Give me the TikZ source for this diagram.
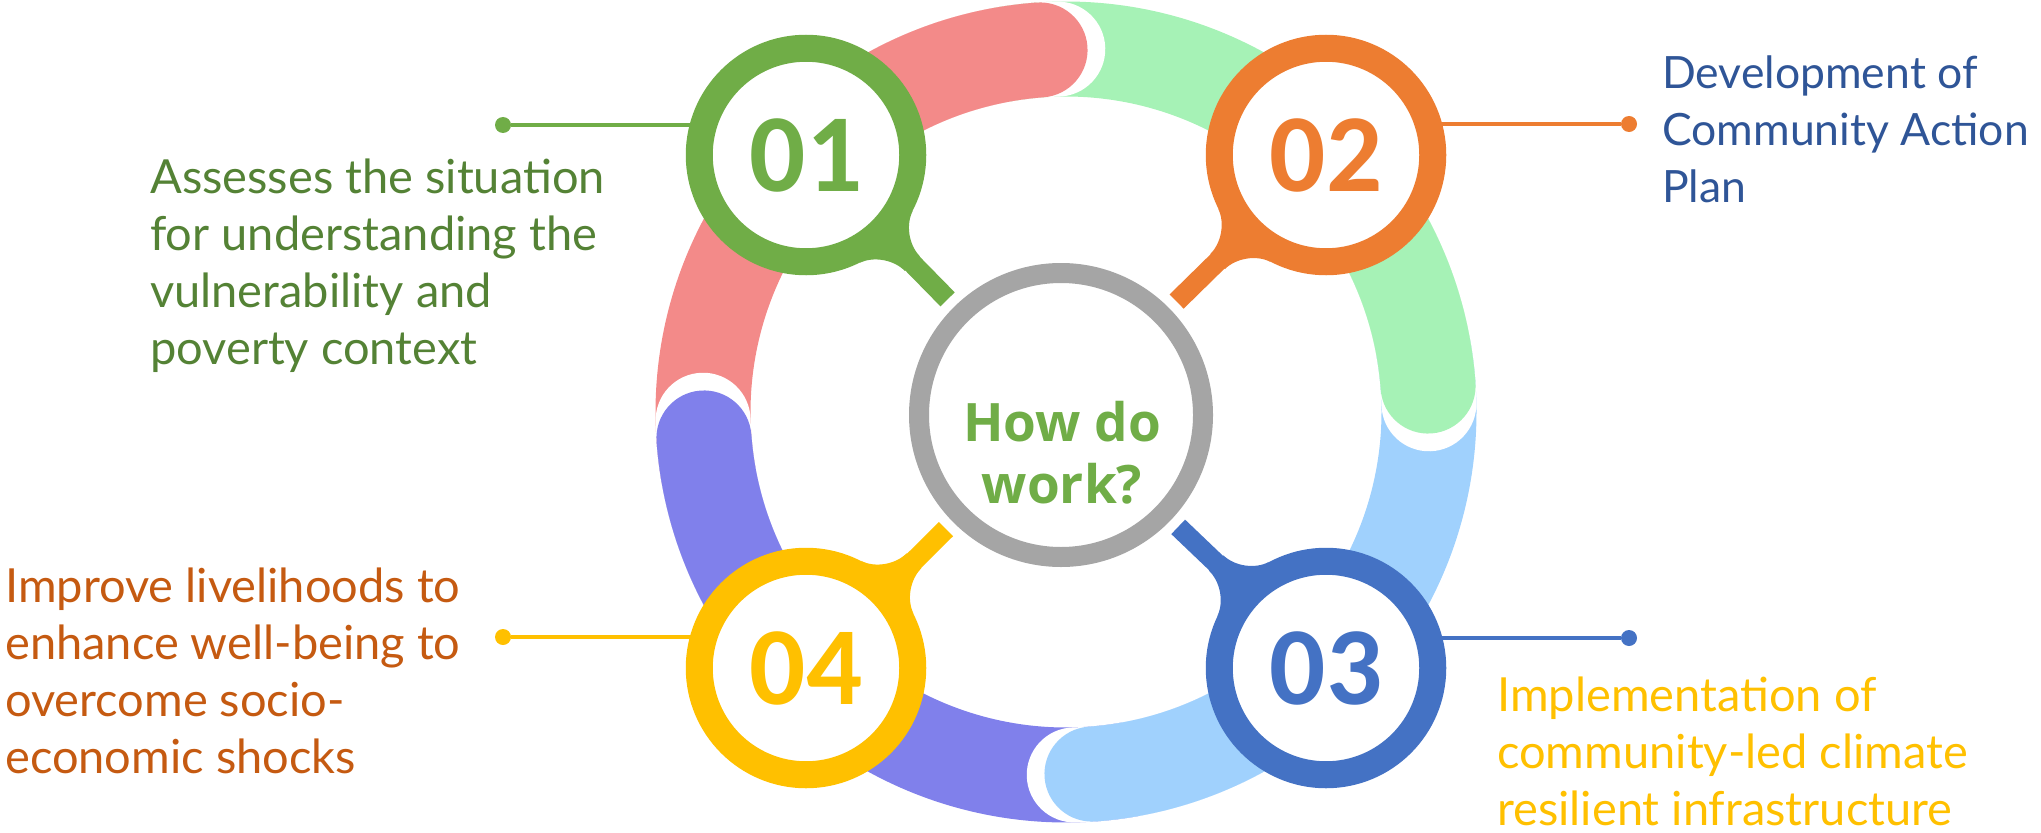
\documentclass[tikz,border=0pt]{standalone}
\usepackage{fontspec}
\setmainfont{Lato}
\newfontfamily\numfont{Carlito}
\newfontfamily\hubfont{Open Sans}
\usepackage{xcolor}
\usepackage{tikz}
\usetikzlibrary{positioning}
\definecolor{c01}{HTML}{70AD47}
\definecolor{c02}{HTML}{ED7D31}
\definecolor{c03}{HTML}{4472C4}
\definecolor{c04}{HTML}{FFC000}
\definecolor{hubgray}{HTML}{A5A5A5}
\definecolor{arcpink}{HTML}{F38A89}
\definecolor{arcgreen}{HTML}{A6F2B6}
\definecolor{arcblue}{HTML}{A0D1FD}
\definecolor{arcviolet}{HTML}{8080EB}
\definecolor{t01}{HTML}{548235}
\definecolor{t02}{HTML}{2F5597}
\definecolor{t03}{HTML}{FFC000}
\definecolor{t04}{HTML}{C55A11}
\pgfdeclarelayer{back}
\pgfsetlayers{back,main}

\begin{document}
\begin{tikzpicture}[x=1pt,y=1pt,node distance=520pt,on grid,
    main node/.style={circle,draw,fill=white,line width=27pt,minimum size=213.5pt,inner sep=0pt,font=\numfont\bfseries\fontsize{111}{111}\selectfont},
    hub node/.style={circle,draw=hubgray,fill=white,line width=20pt,minimum size=284pt,inner sep=0pt},
    dot node/.style={circle,minimum size=16pt,inner sep=0pt},
    text node/.style={anchor=base west,align=left,inner sep=0pt,font=\fontsize{47}{57}\selectfont}]
            \useasboundingbox (0,0) rectangle (2041,-832);

            \node[main node,draw=c01,text=c01] (1) at (806,-155) {01};
            \node[main node,draw=c02,text=c02] (2) [right=of 1] {02};
            \node[main node,draw=c03,text=c03] (3) [below=513pt of 2] {03};
            \node[main node,draw=c04,text=c04] (4) [left=of 3] {04};
            \node[hub node] (c) at (1061,-415) {};

            \foreach \n/\col/\ang in {1/c01/-45.6,2/c02/-135.5,3/c03/136.3,4/c04/44.8}
                \fill[\col,shift={(\n)},rotate=\ang] (114.6,37.2) .. controls (119.4,22.5) and (136.2,10.5) .. (152,10.5)
                    -- (152,-10.5) .. controls (136.2,-10.5) and (119.4,-22.5) .. (114.6,-37.2) -- cycle;

            \node[dot node,fill=c01] (d1) at (503,-125) {};
            \node[dot node,fill=c02] (d2) at (1629,-124) {};
            \node[dot node,fill=c03] (d3) at (1629,-638) {};
            \node[dot node,fill=c04] (d4) at (503,-637) {};

            % texts sit on the baseline of their last line
            \node[text node,text=t01] (a1) at (150,-364) {Assesses the situation\\for understanding the\\vulnerability and\\poverty context};
            \node[text node,text=t02,font=\fontsize{44.5}{57}\selectfont] (a2) at (1662,-202) {Development of\\Community Action\\Plan};
            \node[text node,text=t03] (a3) at (1497,-825) {Implementation of\\community-led climate\\resilient infrastructure};
            \node[text node,text=t04] (a4) at (5,-773) {Improve livelihoods to\\enhance well-being to\\overcome socio-\\economic shocks};
            \node[font=\hubfont\bfseries\fontsize{53}{61.6}\selectfont,text=c01,align=center,anchor=base] (q) at (1062,-503.3) {How do\\work?};

            \begin{pgfonlayer}{back}
                % ring of four arcs, the round ends are redrawn from under the pins
                \begin{scope}[shift={(1066,-412)}]
                    \foreach \col/\e in {arcpink/94.1,arcgreen/4.1,arcblue/-85.9,arcviolet/-175.9}
                        \draw[\col,line width=95pt] ({\e}:363) arc[start angle=\e,end angle=\e+96,radius=363];
                    \foreach \col/\e in {arcpink/94.1,arcgreen/4.1,arcblue/-85.9,arcviolet/-175.9}{
                        \draw[white,line width=95pt,line cap=round] ({\e+41}:363) arc[start angle=\e+41,end angle=\e-2.8,radius=363];
                        \draw[\col,line width=95pt,line cap=round] ({\e+41}:363) arc[start angle=\e+41,end angle=\e,radius=363];
                    }
                \end{scope}

                \foreach \n in {1,2,3,4}
                    \draw[c0\n,line width=4pt] (d\n) -- (d\n -| \n);

                \path (1) edge[c01,line width=20pt,shorten >=10pt] (c);
                \path (2) edge[c02,line width=20pt,shorten >=10pt] (c);
                \path (3) edge[c03,line width=20pt,shorten >=10pt] (c);
                \path (4) edge[c04,line width=20pt,shorten >=10pt] (c);
            \end{pgfonlayer}

        \end{tikzpicture}
\end{document}
